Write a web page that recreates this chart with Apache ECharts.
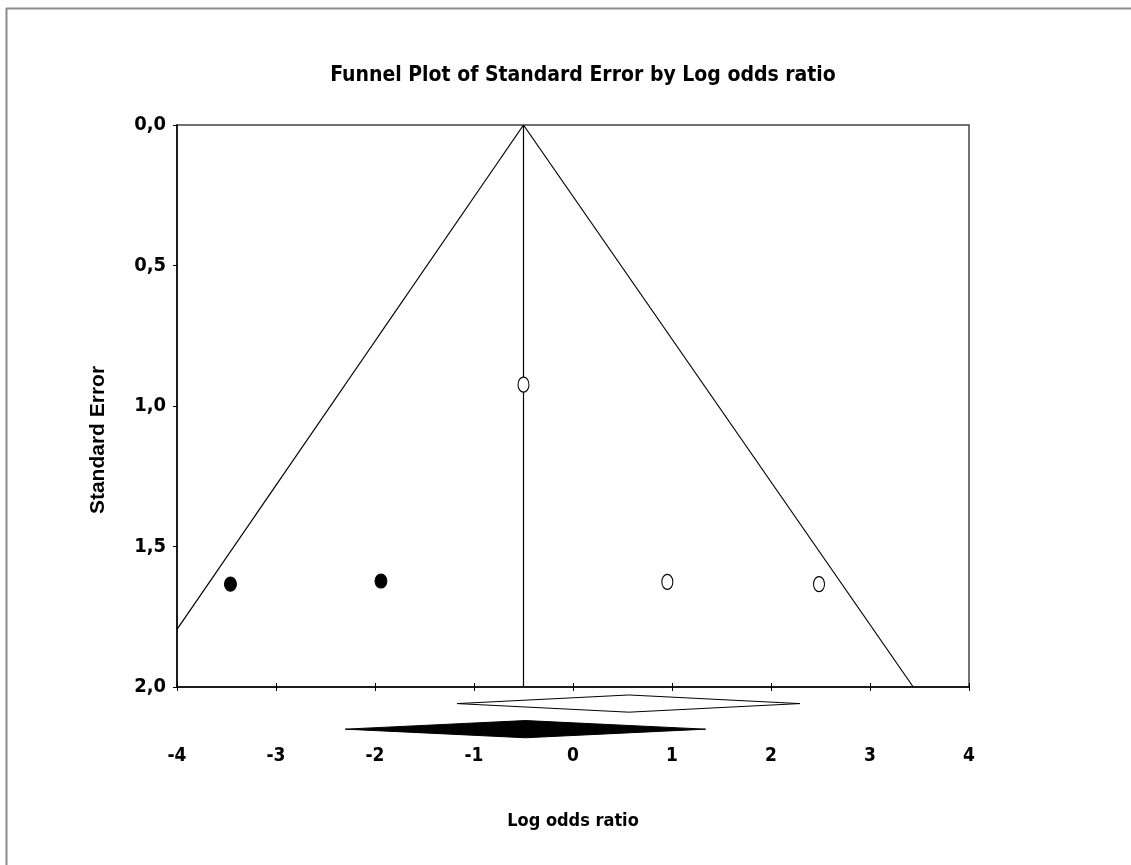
<!DOCTYPE html>
<html>
<head>
<meta charset="utf-8">
<script src="https://cdn.jsdelivr.net/npm/echarts@6/dist/echarts.min.js"></script>
<style>html,body{margin:0;padding:0;background:#fff;}#chart{width:1131px;height:865px;}</style>
</head>
<body>
<div id="chart"></div>
<script>
// ---- data ----
var titleText = 'Funnel Plot of Standard Error by Log odds ratio';
var xName = 'Log odds ratio';
var yName = 'Standard Error';
var xTicks = [-4, -3, -2, -1, 0, 1, 2, 3, 4];
var yTicks = [0, 0.5, 1.0, 1.5, 2.0];
// observed studies (open circles): [log odds ratio, standard error]
var observed = [[-0.5, 0.924], [0.953, 1.626], [2.485, 1.634]];
// imputed studies (filled circles)
var imputed = [[-3.46, 1.634], [-1.94, 1.623]];
// funnel limits
var funnelLeft = [[-4, 1.795], [-0.5, 0]];
var funnelRight = [[-0.5, 0], [3.437, 2.0]];
var centerLine = [[-0.5, 0], [-0.5, 2.0]];
// summary diamonds: [lower, estimate, upper, vertical position (SE units)]
var observedDiamond = [[-1.17, 0.565, 2.293, 2.059]];
var adjustedDiamond = [[-2.30, -0.48, 1.34, 2.150]];

var narrow = '"Liberation Sans Narrow", "DejaVu Sans Condensed", "Liberation Sans", sans-serif';

function diamondRender(fill) {
  return function (params, api) {
    var y = api.value(3);
    var l = api.coord([api.value(0), y]);
    var m = api.coord([api.value(1), y]);
    var r = api.coord([api.value(2), y]);
    var h = 8.6;
    return {
      type: 'polygon',
      shape: { points: [[l[0], l[1]], [m[0], m[1] - h], [r[0], r[1]], [m[0], m[1] + h]] },
      style: { fill: fill, stroke: '#000', lineWidth: 1 }
    };
  };
}

var chart = echarts.init(document.getElementById('chart'));
var lineStyle = { color: '#000', width: 1.2 };
chart.setOption({
  backgroundColor: '#fff',
  animation: false,
  title: {
    text: titleText,
    left: 578, top: 60, textAlign: 'center',
    textStyle: { fontFamily: narrow, fontWeight: 'bold', fontSize: 21, color: '#000' }
  },
  graphic: [
    { type: 'line', shape: { x1: 6, y1: 8.5, x2: 1131, y2: 8.5 }, style: { stroke: '#8c8c8c', lineWidth: 2 } },
    { type: 'line', shape: { x1: 6.5, y1: 8, x2: 6.5, y2: 865 }, style: { stroke: '#8c8c8c', lineWidth: 2 } }
  ],
  grid: { left: 177, top: 125, width: 792, height: 562, show: true, borderColor: '#444', borderWidth: 1.5, backgroundColor: 'transparent' },
  xAxis: [{
    type: 'value', min: -4, max: 4, interval: 1, position: 'bottom',
    name: xName, nameLocation: 'middle', nameGap: 125,
    nameTextStyle: { fontFamily: narrow, fontWeight: 'bold', fontSize: 18, color: '#000' },
    axisLine: { show: true, onZero: false, lineStyle: { color: '#000', width: 1.5 } },
    axisTick: { show: true, inside: true, length: 4, lineStyle: { color: '#000' } },
    axisLabel: { margin: 60, fontFamily: narrow, fontWeight: 'bold', fontSize: 19, color: '#000',
      formatter: function (v) { return xTicks.indexOf(v) >= 0 ? String(v) : ''; } },
    splitLine: { show: false }
  }, {
    type: 'value', min: -4, max: 4, interval: 1, position: 'bottom',
    axisLine: { show: false, onZero: false },
    axisTick: { show: true, inside: false, length: 4, lineStyle: { color: '#000' } },
    axisLabel: { show: false }, splitLine: { show: false }
  }],
  yAxis: {
    type: 'value', min: 0, max: 2, interval: 0.5, inverse: true, position: 'left',
    name: yName, nameLocation: 'middle', nameGap: 68, nameRotate: 90,
    nameTextStyle: { fontFamily: '"Liberation Sans", Arial, sans-serif', fontWeight: 'bold', fontSize: 21, color: '#000', padding: [0, 68, 0, 0] },
    axisLine: { show: true, onZero: false, lineStyle: { color: '#000', width: 1.5 } },
    axisTick: { show: true, inside: false, length: 4, lineStyle: { color: '#000' } },
    axisLabel: { margin: 11, fontFamily: narrow, fontWeight: 'bold', fontSize: 20, color: '#000',
      formatter: function (v) { return v.toFixed(1).replace('.', ','); } },
    splitLine: { show: false }
  },
  series: [
    { type: 'line', data: funnelLeft, symbol: 'none', lineStyle: lineStyle, silent: true },
    { type: 'line', data: funnelRight, symbol: 'none', lineStyle: lineStyle, silent: true },
    { type: 'line', data: centerLine, symbol: 'none', lineStyle: lineStyle, silent: true },
    { type: 'scatter', data: observed, symbol: 'circle', symbolSize: [11, 15],
      itemStyle: { color: '#fff', borderColor: '#000', borderWidth: 1.2, opacity: 1 }, z: 5 },
    { type: 'scatter', data: imputed, symbol: 'circle', symbolSize: [12, 14],
      itemStyle: { color: '#000', borderColor: '#000', borderWidth: 1, opacity: 1 }, z: 5 },
    { type: 'custom', data: observedDiamond, renderItem: diamondRender('#fff'), clip: false, z: 5 },
    { type: 'custom', data: adjustedDiamond, renderItem: diamondRender('#000'), clip: false, z: 5 }
  ]
});
</script>
</body>
</html>
